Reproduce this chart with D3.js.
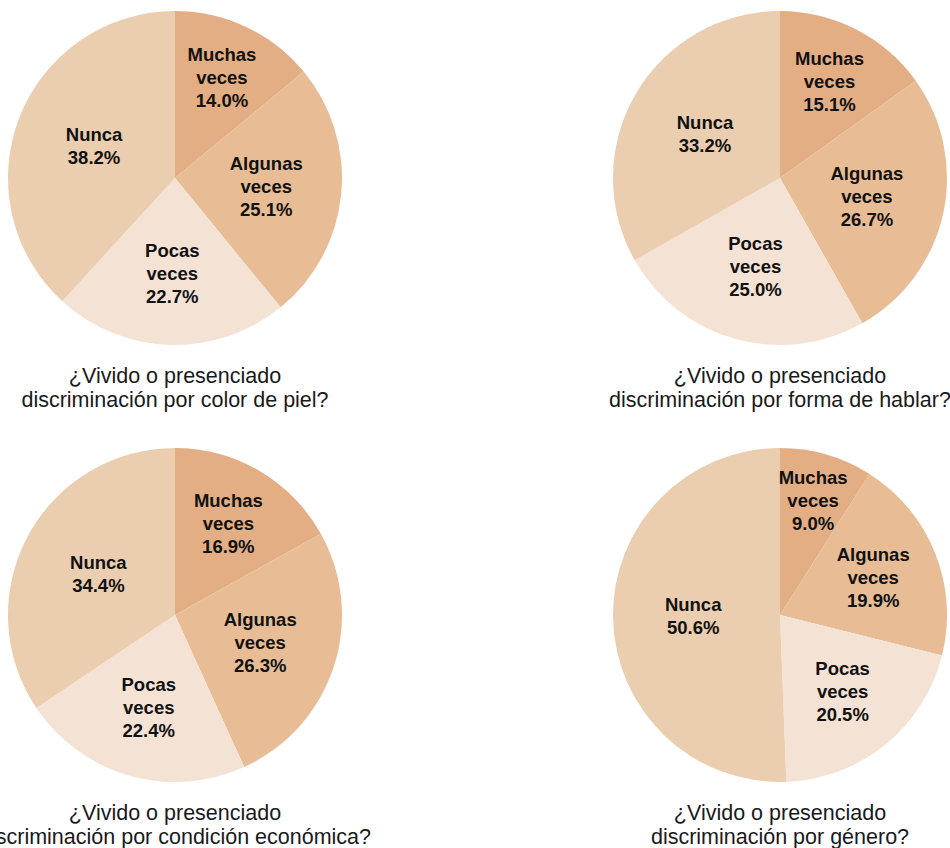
<!DOCTYPE html>
<html><head><meta charset="utf-8">
<script src="https://cdn.jsdelivr.net/npm/d3@7"></script>
<style>
html,body{margin:0;padding:0;background:#fff;}
svg{display:block;}
</style></head>
<body>
<svg id="chart" width="950" height="848"></svg>
<script>
const categories = ["Muchas veces", "Algunas veces", "Pocas veces", "Nunca"];
const labelLines = [["Muchas","veces"],["Algunas","veces"],["Pocas","veces"],["Nunca"]];
const colors = ["#e3ae83", "#e8bd95", "#f4e3d4", "#ebcdaf"];
const titles = [
  ["¿Vivido o presenciado", "discriminación por color de piel?"],
  ["¿Vivido o presenciado", "discriminación por forma de hablar?"],
  ["¿Vivido o presenciado", "discriminación por condición económica?"],
  ["¿Vivido o presenciado", "discriminación por género?"]
];
const valuesColorPiel = [14.0, 25.1, 22.7, 38.2];
const valuesFormaHablar = [15.1, 26.7, 25.0, 33.2];
const valuesCondicion = [16.9, 26.3, 22.4, 34.4];
const valuesGenero = [9.0, 19.9, 20.5, 50.6];
const series = [valuesColorPiel, valuesFormaHablar, valuesCondicion, valuesGenero];

const svg = d3.select("#chart");
const R = 167;
const colX = [175, 780], rowY = [178, 615];
const color = d3.scaleOrdinal().domain(categories).range(colors);
const pie = d3.pie().sort(null).value(d => d.v);
const arc = d3.arc().innerRadius(0).outerRadius(R);

series.forEach((vals, i) => {
  const cx = colX[i % 2], cy = rowY[Math.floor(i / 2)];
  const g = svg.append("g").attr("transform", `translate(${cx},${cy})`);
  const data = vals.map((v, j) => ({cat: categories[j], v, j}));
  const arcs = pie(data);
  g.selectAll("path").data(arcs).join("path")
    .attr("d", arc).attr("fill", d => color(d.data.cat));
  const total = d3.sum(vals);
  arcs.forEach(a => {
    const p = a.data.v / total;
    const k = Math.max(0.52, 0.8 - p);
    const mid = (a.startAngle + a.endAngle) / 2;
    const x = Math.sin(mid) * R * k, y = -Math.cos(mid) * R * k;
    const lines = labelLines[a.data.j].concat([a.data.v.toFixed(1) + "%"]);
    const lh = 23;
    const y0 = y - (lines.length - 1) * lh / 2 + 6;
    const t = g.append("text").attr("text-anchor", "middle")
      .attr("font-family", "Liberation Sans, Arial, sans-serif")
      .attr("font-weight", "bold").attr("font-size", 18.5).attr("fill", "#111");
    lines.forEach((ln, li) => {
      t.append("tspan").attr("x", x).attr("y", y0 + li * lh).text(ln);
    });
  });
  const tt = svg.append("text").attr("text-anchor", "middle")
    .attr("font-family", "Liberation Sans, Arial, sans-serif")
    .attr("font-size", 21.5).attr("fill", "#1a1a1a");
  titles[i].forEach((ln, li) => {
    tt.append("tspan").attr("x", cx).attr("y", cy + R + 38 + li * 23.5).text(ln);
  });
});
</script>
</body></html>
